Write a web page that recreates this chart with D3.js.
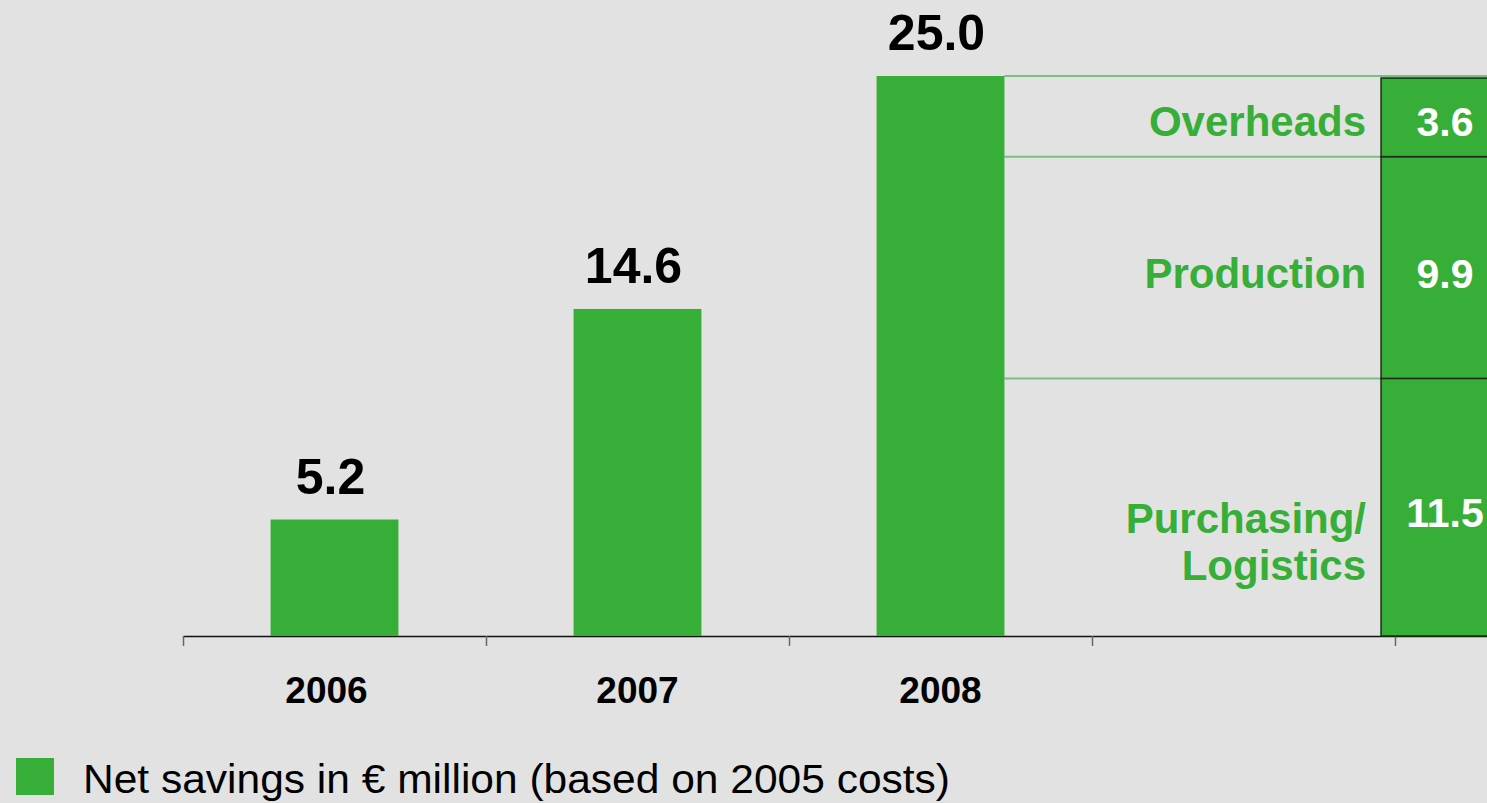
<!DOCTYPE html>
<html>
<head>
<meta charset="utf-8">
<script src="https://cdn.jsdelivr.net/npm/d3@7/dist/d3.min.js"></script>
<style>
  html, body { margin: 0; padding: 0; background: #e2e2e2; overflow: hidden; }
  svg { display: block; font-family: "Liberation Sans", Arial, sans-serif; }
</style>
</head>
<body>
<svg id="chart" width="1487" height="803"></svg>
<script>
// ---- data ----
const years = ["2006", "2007", "2008"];
const totals = [5.2, 14.6, 25.0];
const breakdownLabels = ["Purchasing/ Logistics", "Production", "Overheads"];
const breakdownValues = [11.5, 9.9, 3.6];
const legendLabel = "Net savings in € million (based on 2005 costs)";

// ---- style ----
const GREEN = "#36ae37";
const LINE_GREEN = "#7cbd81";
const W = 1487, H = 803;

const svg = d3.select("#chart");
svg.append("rect").attr("width", W).attr("height", H).attr("fill", "#e2e2e2");

// slots: three years, an empty slot, and the breakdown slot
const slots = [...years, "gap", "breakdown"];
const x = d3.scaleBand().domain(slots).range([183, 183 + 303 * slots.length]).padding(0);
const xi = d3.scaleLinear().domain([0, slots.length]).range(x.range());
const y = d3.scaleLinear().domain([0, 25]).range([636, 636 - 22.4 * 25]);

const barW = x.bandwidth() * 0.422;

// axis line + ticks at slot boundaries
const axis = d3.axisBottom(xi).tickValues(d3.range(0, slots.length + 1)).tickFormat("").tickSize(10).tickSizeOuter(0);
const gAxis = svg.append("g").attr("transform", `translate(0,${y(0)})`).call(axis);
gAxis.select(".domain").attr("stroke", "#111").attr("stroke-width", 1.5);
gAxis.selectAll(".tick line").attr("stroke", "#666").attr("stroke-width", 1.5);

// year labels
svg.append("g").selectAll("text").data(years).join("text")
  .attr("x", (d, i) => x(d) + x.bandwidth() / 2 - (i === 0 ? 8 : 0))
  .attr("y", y(0) + 67)
  .attr("text-anchor", "middle")
  .attr("font-size", 37).attr("font-weight", "bold").attr("fill", "#000")
  .text(d => d);

// stacked breakdown geometry
const stackX = x("breakdown") - x.bandwidth() * 0.046;
const stackW = x.bandwidth() * 0.422;
let cum = 0;
const segs = breakdownValues.map((v, i) => {
  const s = { value: v, label: breakdownLabels[i], y0: cum, y1: cum + v };
  cum += v;
  return s;
});

// connector lines from the 2008 bar to the breakdown
const bar2008Right = x("2008") + (x.bandwidth() - barW) / 2 + barW;
const connY = [segs[0].y0, segs[1].y0, segs[2].y0, segs[2].y1];
svg.append("g").selectAll("line").data(connY.filter(v => v > 0)).join("line")
  .attr("x1", bar2008Right).attr("x2", W)
  .attr("y1", d => y(d)).attr("y2", d => y(d))
  .attr("stroke", LINE_GREEN).attr("stroke-width", 2);

// main bars
svg.append("g").selectAll("rect").data(years).join("rect")
  .attr("x", d => x(d) + (x.bandwidth() - barW) / 2)
  .attr("width", barW)
  .attr("y", (d, i) => y(totals[i]))
  .attr("height", (d, i) => y(0) - y(totals[i]))
  .attr("fill", GREEN);

// value labels
svg.append("g").selectAll("text").data(years).join("text")
  .attr("x", d => x(d) + x.bandwidth() / 2 - 4)
  .attr("y", (d, i) => y(totals[i]) - 26)
  .attr("text-anchor", "middle")
  .attr("font-size", 50).attr("font-weight", "bold").attr("fill", "#000")
  .text((d, i) => totals[i].toFixed(1));

// stacked segments
svg.append("g").selectAll("rect").data(segs).join("rect")
  .attr("x", stackX).attr("width", stackW)
  .attr("y", d => y(d.y1) + (d.y1 === cum ? 2 : 0))
  .attr("height", d => y(d.y0) - y(d.y1) - (d.y1 === cum ? 2 : 0))
  .attr("fill", GREEN).attr("stroke", "#1b2a1b").attr("stroke-width", 1.5);

// segment values
svg.append("g").selectAll("text").data(segs).join("text")
  .attr("x", stackX + stackW / 2)
  .attr("y", d => (y(d.y0) + y(d.y1)) / 2 + 20)
  .attr("text-anchor", "middle")
  .attr("font-size", 41).attr("font-weight", "bold").attr("fill", "#fff")
  .text(d => d.value.toFixed(1));

// segment labels
const labG = svg.append("g");
segs.forEach(d => {
  const lines = d.label.split(" ");
  const cy = (y(d.y0) + y(d.y1)) / 2;
  const lh = 47;
  const t = labG.append("text")
    .attr("text-anchor", "end")
    .attr("font-size", 42).attr("font-weight", "bold").attr("fill", GREEN);
  const startY = lines.length > 1 ? cy + 26 : cy + 20;
  lines.forEach((ln, k) => {
    t.append("tspan").attr("x", stackX - 15).attr("y", startY + k * lh).text(ln);
  });
});

// legend
svg.append("rect").attr("x", 16).attr("y", 758).attr("width", 38).attr("height", 37).attr("fill", GREEN);
svg.append("text").attr("x", 83).attr("y", 793)
  .attr("font-size", 40).attr("fill", "#000")
  .attr("textLength", 867).attr("lengthAdjust", "spacingAndGlyphs")
  .text(legendLabel);
</script>
</body>
</html>
